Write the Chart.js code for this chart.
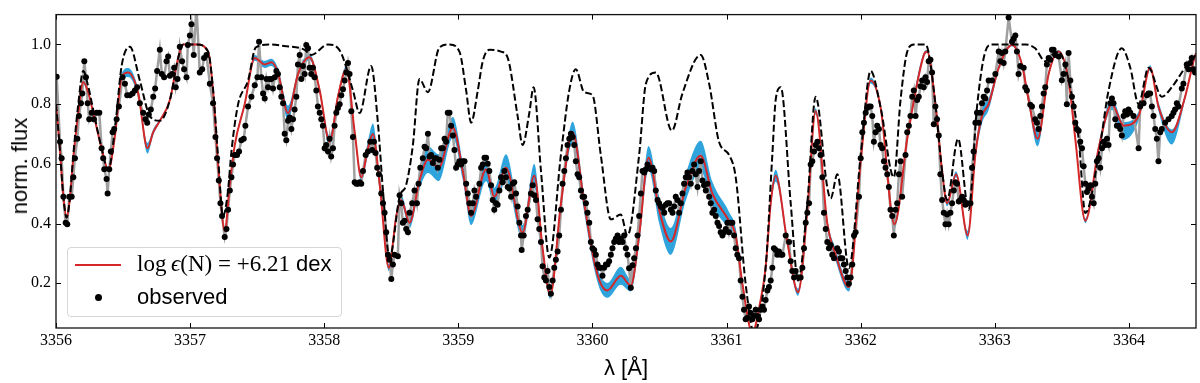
<!DOCTYPE html>
<html>
<head>
<meta charset="utf-8">
<script src="https://cdn.jsdelivr.net/npm/chart.js@4.4.1/dist/chart.umd.min.js"></script>
<style>
    html, body { margin: 0; padding: 0; background: #fff; }
    #wrap { position: relative; width: 1200px; height: 383px; overflow: hidden; }
    #chart { position: absolute; left: 0; top: 0; }
    .ytitle {
        position: absolute; left: 20px; top: 166px;
        transform: translate(-50%, -50%) rotate(-90deg);
        font: 22px 'Liberation Sans', Arial, sans-serif; white-space: nowrap; color: #000;
    }
    .xtitle {
        position: absolute; left: 626px; top: 368px;
        transform: translate(-50%, -50%);
        font: 22px 'Liberation Sans', Arial, sans-serif; white-space: nowrap; color: #000;
    }
    .legend {
        position: absolute; left: 67px; top: 247px; width: 275px; height: 70px;
        box-sizing: border-box; border: 1px solid #d6d6d6; border-radius: 4px;
        background: rgba(255, 255, 255, 0.8);
    }
    .legend .swatch { position: absolute; left: 7px; top: 16px; width: 46px; height: 2px; background: #d62728; }
    .legend .dot { position: absolute; left: 27px; top: 46px; width: 7px; height: 7px; border-radius: 50%; background: #000; }
    .legend .row1, .legend .row2 {
        position: absolute; left: 69px; line-height: 26px; white-space: nowrap; color: #000;
        font: 22px 'Liberation Sans', Arial, sans-serif;
    }
    .legend .row1 { top: 3px; }
    .legend .row2 { top: 36px; }
    .legend .math { font-family: 'Liberation Serif', 'DejaVu Serif', serif; font-size: 23px; }
</style>
</head>
<body>
<div id="wrap">
    <canvas id="chart" width="1200" height="383"></canvas>
    <div class="ytitle">norm. flux</div>
    <div class="xtitle">λ [Å]</div>
    <div class="legend">
        <div class="swatch"></div>
        <div class="row1"><span class="math">log&thinsp;<i>ϵ</i>(N) = +6.21</span> dex</div>
        <div class="dot"></div>
        <div class="row2">observed</div>
    </div>
</div>
<script>
// axis ticks
const X_TICKS = [3356, 3357, 3358, 3359, 3360, 3361, 3362, 3363, 3364];
const Y_TICKS = [0.2, 0.4, 0.6, 0.8, 1.0];

// observed spectrum [wavelength, normalised flux]
const observed = [
    [3356.005,0.892],[3356.030,0.674],[3356.042,0.619],[3356.055,0.490],[3356.072,0.403],[3356.084,0.398],
    [3356.099,0.490],[3356.117,0.490],[3356.129,0.555],[3356.141,0.619],[3356.159,0.684],[3356.171,0.760],
    [3356.186,0.803],[3356.196,0.836],[3356.211,0.944],[3356.223,0.890],[3356.236,0.803],[3356.248,0.749],
    [3356.266,0.771],[3356.283,0.749],[3356.303,0.771],[3356.323,0.771],[3356.340,0.652],[3356.352,0.619],
    [3356.360,0.582],[3356.377,0.549],[3356.385,0.501],[3356.397,0.582],[3356.409,0.641],[3356.422,0.706],
    [3356.434,0.717],[3356.452,0.749],[3356.469,0.792],[3356.496,0.890],[3356.514,0.868],[3356.531,0.830],
    [3356.551,0.830],[3356.571,0.836],[3356.588,0.846],[3356.605,0.857],[3356.625,0.803],[3356.650,0.771],
    [3356.667,0.749],[3356.680,0.738],[3356.692,0.765],[3356.707,0.782],[3356.725,0.825],[3356.739,0.852],
    [3356.754,0.911],[3356.774,0.982],[3356.789,0.901],[3356.806,0.890],[3356.824,0.944],[3356.836,0.960],
    [3356.849,0.895],[3356.866,0.901],[3356.881,0.922],[3356.893,0.857],[3356.906,0.884],[3356.923,0.992],
    [3356.940,0.944],[3356.955,0.917],[3356.973,0.890],[3356.983,0.998],[3356.998,1.030],[3357.010,1.068],
    [3357.027,0.965],[3357.047,1.130],[3357.072,0.906],[3357.090,0.917],[3357.104,0.955],[3357.122,0.965],
    [3357.147,0.868],[3357.171,0.803],[3357.189,0.690],[3357.201,0.619],[3357.214,0.544],[3357.226,0.468],
    [3357.238,0.425],[3357.258,0.355],[3357.271,0.382],[3357.283,0.446],[3357.296,0.511],[3357.308,0.555],
    [3357.320,0.598],[3357.333,0.630],[3357.350,0.630],[3357.365,0.641],[3357.382,0.679],[3357.400,0.684],
    [3357.412,0.728],[3357.432,0.792],[3357.457,0.825],[3357.482,0.863],[3357.502,0.890],[3357.514,1.009],
    [3357.531,0.890],[3357.544,0.836],[3357.556,0.819],[3357.569,0.884],[3357.581,0.857],[3357.593,0.884],
    [3357.606,0.884],[3357.618,0.852],[3357.631,0.890],[3357.643,0.911],[3357.655,0.901],[3357.668,0.857],
    [3357.680,0.825],[3357.693,0.803],[3357.705,0.701],[3357.717,0.679],[3357.730,0.744],[3357.742,0.755],
    [3357.755,0.717],[3357.767,0.749],[3357.779,0.782],[3357.792,0.825],[3357.804,0.933],[3357.817,0.965],
    [3357.829,0.884],[3357.841,0.928],[3357.854,0.901],[3357.866,0.998],[3357.879,0.987],[3357.891,0.922],
    [3357.903,0.901],[3357.916,0.922],[3357.928,0.890],[3357.941,0.846],[3357.953,0.792],[3357.966,0.771],
    [3357.978,0.749],[3357.990,0.728],[3358.003,0.652],[3358.015,0.663],[3358.028,0.641],[3358.040,0.684],
    [3358.052,0.625],[3358.065,0.652],[3358.077,0.728],[3358.090,0.771],[3358.102,0.787],[3358.115,0.800],
    [3358.127,0.830],[3358.140,0.850],[3358.152,0.879],[3358.165,0.906],[3358.177,0.938],[3358.189,0.901],
    [3358.202,0.776],[3358.214,0.690],[3358.227,0.538],[3358.239,0.533],[3358.251,0.533],[3358.264,0.538],
    [3358.276,0.533],[3358.289,0.576],[3358.309,0.630],[3358.326,0.641],[3358.343,0.674],[3358.358,0.646],
    [3358.371,0.674],[3358.383,0.636],[3358.395,0.587],[3358.408,0.565],[3358.425,0.501],[3358.438,0.468],
    [3358.450,0.436],[3358.462,0.371],[3358.475,0.295],[3358.487,0.279],[3358.500,0.214],[3358.512,0.263],
    [3358.524,0.295],[3358.549,0.290],[3358.562,0.495],[3358.574,0.468],[3358.586,0.403],[3358.599,0.409],
    [3358.611,0.382],[3358.624,0.371],[3358.636,0.436],[3358.656,0.468],[3358.673,0.511],[3358.691,0.468],
    [3358.703,0.533],[3358.716,0.587],[3358.735,0.619],[3358.748,0.657],[3358.760,0.652],[3358.773,0.701],
    [3358.785,0.625],[3358.797,0.630],[3358.810,0.603],[3358.822,0.619],[3358.835,0.619],[3358.847,0.587],
    [3358.859,0.614],[3358.872,0.652],[3358.884,0.652],[3358.897,0.684],[3358.909,0.674],[3358.921,0.771],
    [3358.934,0.771],[3358.946,0.728],[3358.959,0.695],[3358.971,0.646],[3358.983,0.587],[3358.996,0.598],
    [3359.008,0.609],[3359.021,0.598],[3359.033,0.609],[3359.046,0.609],[3359.058,0.533],[3359.070,0.501],
    [3359.083,0.468],[3359.095,0.436],[3359.108,0.468],[3359.120,0.511],[3359.132,0.490],[3359.157,0.533],
    [3359.170,0.587],[3359.182,0.598],[3359.195,0.620],[3359.207,0.620],[3359.219,0.600],[3359.231,0.576],
    [3359.244,0.528],[3359.256,0.479],[3359.268,0.446],[3359.281,0.468],[3359.293,0.463],[3359.306,0.511],
    [3359.318,0.555],[3359.330,0.538],[3359.343,0.576],[3359.355,0.555],[3359.368,0.522],[3359.380,0.517],
    [3359.393,0.490],[3359.405,0.533],[3359.417,0.538],[3359.430,0.501],[3359.442,0.457],[3359.455,0.403],
    [3359.467,0.360],[3359.472,0.311],[3359.487,0.360],[3359.504,0.425],[3359.517,0.446],[3359.541,0.501],
    [3359.554,0.528],[3359.566,0.495],[3359.579,0.479],[3359.591,0.414],[3359.603,0.382],[3359.616,0.338],
    [3359.628,0.257],[3359.641,0.219],[3359.653,0.209],[3359.665,0.241],[3359.678,0.187],[3359.690,0.165],
    [3359.703,0.209],[3359.715,0.252],[3359.727,0.279],[3359.740,0.306],[3359.752,0.360],[3359.765,0.446],
    [3359.777,0.533],[3359.790,0.576],[3359.802,0.619],[3359.814,0.663],[3359.827,0.684],[3359.839,0.701],
    [3359.852,0.690],[3359.864,0.663],[3359.876,0.609],[3359.889,0.565],[3359.901,0.555],[3359.914,0.511],
    [3359.926,0.490],[3359.938,0.490],[3359.951,0.468],[3359.963,0.436],[3359.976,0.403],[3359.988,0.338],
    [3360.000,0.317],[3360.013,0.311],[3360.025,0.295],[3360.038,0.263],[3360.050,0.252],[3360.062,0.252],
    [3360.075,0.225],[3360.087,0.252],[3360.100,0.263],[3360.112,0.263],[3360.124,0.274],[3360.137,0.295],
    [3360.149,0.317],[3360.162,0.338],[3360.174,0.349],[3360.187,0.360],[3360.199,0.338],[3360.211,0.349],
    [3360.224,0.338],[3360.236,0.360],[3360.249,0.317],[3360.261,0.295],[3360.273,0.250],[3360.286,0.185],
    [3360.299,0.260],[3360.311,0.284],[3360.324,0.317],[3360.336,0.360],[3360.348,0.425],[3360.361,0.501],
    [3360.373,0.576],[3360.386,0.571],[3360.398,0.582],[3360.410,0.598],[3360.423,0.587],[3360.435,0.582],
    [3360.448,0.587],[3360.460,0.576],[3360.472,0.511],[3360.485,0.479],[3360.497,0.468],[3360.510,0.457],
    [3360.522,0.452],[3360.535,0.436],[3360.547,0.463],[3360.559,0.468],[3360.572,0.468],[3360.584,0.446],
    [3360.597,0.436],[3360.609,0.457],[3360.621,0.490],[3360.634,0.479],[3360.646,0.436],[3360.659,0.468],
    [3360.671,0.501],[3360.683,0.533],[3360.696,0.555],[3360.708,0.571],[3360.721,0.555],[3360.733,0.533],
    [3360.745,0.576],[3360.758,0.598],[3360.770,0.565],[3360.783,0.522],[3360.795,0.576],[3360.807,0.609],
    [3360.820,0.544],[3360.832,0.528],[3360.845,0.511],[3360.857,0.533],[3360.870,0.490],[3360.882,0.468],
    [3360.894,0.436],[3360.907,0.446],[3360.919,0.425],[3360.932,0.403],[3360.944,0.392],[3360.956,0.371],
    [3360.969,0.360],[3360.981,0.371],[3360.994,0.382],[3361.006,0.403],[3361.018,0.371],[3361.031,0.403],
    [3361.043,0.403],[3361.056,0.360],[3361.068,0.317],[3361.080,0.295],[3361.093,0.284],[3361.105,0.209],
    [3361.118,0.155],[3361.130,0.111],[3361.142,0.079],[3361.155,0.084],[3361.167,0.122],[3361.180,0.100],
    [3361.192,0.079],[3361.205,0.090],[3361.217,0.111],[3361.229,0.090],[3361.242,0.079],[3361.254,0.111],
    [3361.267,0.122],[3361.279,0.111],[3361.291,0.144],[3361.304,0.176],[3361.316,0.187],[3361.329,0.209],
    [3361.341,0.252],[3361.353,0.317],[3361.366,0.311],[3361.378,0.295],[3361.391,0.306],[3361.404,0.295],
    [3361.416,0.295],[3361.441,0.360],[3361.466,0.338],[3361.478,0.274],[3361.490,0.241],[3361.503,0.219],
    [3361.515,0.241],[3361.540,0.219],[3361.552,0.219],[3361.565,0.252],[3361.577,0.317],[3361.590,0.403],
    [3361.602,0.436],[3361.615,0.468],[3361.627,0.598],[3361.639,0.609],[3361.652,0.641],[3361.664,0.663],
    [3361.677,0.674],[3361.689,0.652],[3361.701,0.630],[3361.714,0.555],[3361.726,0.436],[3361.739,0.382],
    [3361.751,0.338],[3361.763,0.317],[3361.776,0.328],[3361.788,0.295],[3361.801,0.284],[3361.825,0.317],
    [3361.838,0.306],[3361.850,0.284],[3361.863,0.284],[3361.875,0.263],[3361.888,0.241],[3361.900,0.219],
    [3361.912,0.198],[3361.925,0.219],[3361.937,0.263],[3361.950,0.360],[3361.962,0.371],[3361.987,0.490],
    [3362.000,0.619],[3362.012,0.706],[3362.024,0.738],[3362.037,0.771],[3362.049,0.787],[3362.061,0.792],
    [3362.074,0.792],[3362.086,0.760],[3362.098,0.674],[3362.111,0.706],[3362.123,0.728],[3362.136,0.717],
    [3362.148,0.663],[3362.160,0.652],[3362.173,0.609],[3362.185,0.587],[3362.198,0.565],[3362.210,0.522],
    [3362.222,0.446],[3362.235,0.425],[3362.247,0.360],[3362.260,0.446],[3362.272,0.468],[3362.285,0.565],
    [3362.297,0.609],[3362.309,0.490],[3362.334,0.630],[3362.347,0.706],[3362.359,0.728],[3362.371,0.760],
    [3362.384,0.825],[3362.396,0.846],[3362.409,0.760],[3362.421,0.814],[3362.433,0.825],[3362.446,0.860],
    [3362.458,0.879],[3362.470,0.857],[3362.483,0.890],[3362.495,0.874],[3362.507,0.944],[3362.520,0.949],
    [3362.532,0.906],[3362.545,0.733],[3362.557,0.792],[3362.569,0.749],[3362.582,0.695],[3362.594,0.565],
    [3362.607,0.479],[3362.619,0.436],[3362.632,0.398],[3362.644,0.430],[3362.656,0.398],[3362.669,0.436],
    [3362.681,0.468],[3362.694,0.511],[3362.706,0.538],[3362.718,0.533],[3362.731,0.474],[3362.743,0.479],
    [3362.756,0.490],[3362.768,0.479],[3362.780,0.463],[3362.793,0.468],[3362.818,0.468],[3362.830,0.587],
    [3362.842,0.641],[3362.855,0.738],[3362.867,0.771],[3362.880,0.738],[3362.892,0.771],[3362.904,0.803],
    [3362.917,0.825],[3362.929,0.819],[3362.942,0.846],[3362.954,0.879],[3362.979,0.879],[3363.004,0.901],
    [3363.029,0.976],[3363.041,0.944],[3363.053,0.971],[3363.066,0.938],[3363.078,0.976],[3363.103,1.090],
    [3363.128,1.009],[3363.140,1.019],[3363.153,1.030],[3363.165,0.976],[3363.177,0.901],[3363.190,0.928],
    [3363.215,0.922],[3363.227,0.857],[3363.239,0.846],[3363.264,0.798],[3363.277,0.792],[3363.301,0.749],
    [3363.314,0.738],[3363.326,0.717],[3363.339,0.760],[3363.351,0.792],[3363.364,0.836],[3363.376,0.857],
    [3363.388,0.933],[3363.401,0.955],[3363.413,0.949],[3363.426,0.982],[3363.438,0.982],[3363.450,0.965],
    [3363.476,0.960],[3363.500,0.880],[3363.512,0.901],[3363.526,0.933],[3363.537,0.800],[3363.550,0.971],
    [3363.563,0.879],[3363.575,0.825],[3363.588,0.792],[3363.600,0.738],[3363.612,0.717],[3363.625,0.711],
    [3363.637,0.674],[3363.650,0.652],[3363.662,0.592],[3363.675,0.533],[3363.687,0.506],[3363.699,0.517],
    [3363.712,0.528],[3363.724,0.490],[3363.737,0.468],[3363.749,0.533],[3363.761,0.609],[3363.774,0.619],
    [3363.786,0.587],[3363.799,0.652],[3363.811,0.674],[3363.823,0.663],[3363.836,0.684],[3363.848,0.663],
    [3363.861,0.803],[3363.873,0.819],[3363.885,0.803],[3363.898,0.749],[3363.910,0.728],[3363.923,0.728],
    [3363.935,0.717],[3363.947,0.695],[3363.960,0.760],[3363.972,0.776],[3363.985,0.765],[3363.997,0.782],
    [3364.010,0.771],[3364.034,0.760],[3364.072,0.652],[3364.084,0.792],[3364.109,0.803],[3364.134,0.830],
    [3364.146,0.836],[3364.158,0.836],[3364.171,0.792],[3364.183,0.760],[3364.196,0.717],[3364.208,0.684],
    [3364.220,0.609],[3364.233,0.706],[3364.245,0.717],[3364.270,0.738],[3364.295,0.749],[3364.319,0.760],
    [3364.332,0.771],[3364.344,0.782],[3364.357,0.803],[3364.369,0.792],[3364.394,0.852],[3364.406,0.868],
    [3364.431,0.933],[3364.444,0.917],[3364.456,0.938],[3364.468,0.955],[3364.481,0.917],[3364.493,0.906]
];

// best-fit synthetic spectrum, log eps(N) = +6.21
const model = [
    [3356.000,0.800],[3356.025,0.670],[3356.055,0.490],[3356.079,0.420],[3356.100,0.470],[3356.129,0.620],
    [3356.166,0.770],[3356.203,0.874],[3356.240,0.840],[3356.278,0.770],[3356.340,0.652],[3356.390,0.580],
    [3356.440,0.695],[3356.489,0.890],[3356.538,0.906],[3356.613,0.836],[3356.682,0.652],[3356.725,0.706],
    [3356.774,0.744],[3356.849,0.814],[3356.911,0.955],[3356.948,1.000],[3357.050,1.000],[3357.134,0.976],
    [3357.171,0.846],[3357.209,0.598],[3357.258,0.376],[3357.296,0.533],[3357.333,0.663],[3357.407,0.800],
    [3357.482,0.955],[3357.556,0.933],[3357.606,0.940],[3357.655,0.906],[3357.730,0.770],[3357.804,0.900],
    [3357.891,0.957],[3357.966,0.846],[3358.040,0.674],[3358.102,0.825],[3358.165,0.917],[3358.227,0.706],
    [3358.276,0.555],[3358.326,0.652],[3358.363,0.700],[3358.413,0.533],[3358.482,0.252],[3358.537,0.425],
    [3358.574,0.479],[3358.636,0.403],[3358.710,0.544],[3358.773,0.614],[3358.854,0.587],[3358.959,0.722],
    [3359.033,0.576],[3359.095,0.425],[3359.207,0.582],[3359.268,0.490],[3359.355,0.587],[3359.479,0.370],
    [3359.566,0.560],[3359.628,0.317],[3359.685,0.160],[3359.765,0.468],[3359.852,0.706],[3359.938,0.468],
    [3360.013,0.273],[3360.062,0.198],[3360.112,0.176],[3360.211,0.225],[3360.286,0.192],[3360.348,0.360],
    [3360.418,0.620],[3360.497,0.446],[3360.584,0.340],[3360.696,0.522],[3360.807,0.627],[3360.894,0.500],
    [3361.018,0.409],[3361.068,0.360],[3361.118,0.198],[3361.192,0.035],[3361.254,0.144],[3361.291,0.252],
    [3361.329,0.468],[3361.366,0.560],[3361.453,0.338],[3361.533,0.170],[3361.602,0.446],[3361.664,0.776],
    [3361.751,0.400],[3361.813,0.295],[3361.912,0.187],[3362.000,0.608],[3362.074,0.879],[3362.148,0.790],
    [3362.252,0.398],[3362.347,0.684],[3362.471,0.965],[3362.495,0.976],[3362.557,0.800],[3362.607,0.576],
    [3362.644,0.468],[3362.711,0.565],[3362.798,0.360],[3362.855,0.632],[3362.904,0.760],[3362.954,0.800],
    [3363.029,0.922],[3363.128,0.998],[3363.202,0.933],[3363.252,0.814],[3363.319,0.684],[3363.401,0.900],
    [3363.475,0.976],[3363.550,0.879],[3363.600,0.684],[3363.675,0.409],[3363.774,0.652],[3363.873,0.800],
    [3363.960,0.728],[3364.072,0.760],[3364.158,0.922],[3364.220,0.792],[3364.320,0.706],[3364.419,0.825],
    [3364.488,0.955],[3364.500,0.970]
];

// abundance range around the fit [wavelength, lower, upper]
const bandRange = [
    [3356.000,0.795,0.805],[3356.025,0.665,0.675],[3356.055,0.485,0.495],[3356.079,0.415,0.425],
    [3356.100,0.465,0.475],[3356.129,0.615,0.625],[3356.166,0.765,0.775],[3356.203,0.866,0.882],
    [3356.240,0.832,0.848],[3356.278,0.762,0.778],[3356.340,0.647,0.657],[3356.390,0.575,0.585],
    [3356.440,0.687,0.703],[3356.489,0.878,0.902],[3356.538,0.891,0.921],[3356.613,0.821,0.851],
    [3356.682,0.634,0.670],[3356.725,0.696,0.716],[3356.774,0.739,0.749],[3356.849,0.810,0.818],
    [3356.911,0.952,0.958],[3356.948,0.998,1.002],[3357.050,0.998,1.002],[3357.134,0.973,0.979],
    [3357.171,0.842,0.850],[3357.209,0.593,0.603],[3357.258,0.371,0.381],[3357.296,0.528,0.538],
    [3357.333,0.657,0.669],[3357.407,0.792,0.808],[3357.482,0.945,0.965],[3357.556,0.921,0.945],
    [3357.606,0.928,0.952],[3357.655,0.891,0.921],[3357.730,0.745,0.795],[3357.804,0.888,0.912],
    [3357.891,0.947,0.967],[3357.966,0.834,0.858],[3358.040,0.654,0.694],[3358.102,0.813,0.837],
    [3358.165,0.905,0.929],[3358.227,0.691,0.721],[3358.276,0.540,0.570],[3358.326,0.627,0.677],
    [3358.363,0.665,0.735],[3358.413,0.513,0.553],[3358.482,0.240,0.264],[3358.537,0.410,0.440],
    [3358.574,0.464,0.494],[3358.636,0.385,0.421],[3358.710,0.514,0.574],[3358.773,0.569,0.659],
    [3358.854,0.542,0.632],[3358.959,0.687,0.757],[3359.033,0.546,0.606],[3359.095,0.395,0.455],
    [3359.207,0.542,0.622],[3359.268,0.460,0.520],[3359.355,0.542,0.632],[3359.479,0.345,0.395],
    [3359.566,0.520,0.600],[3359.628,0.297,0.337],[3359.685,0.148,0.172],[3359.765,0.448,0.488],
    [3359.852,0.671,0.741],[3359.938,0.438,0.498],[3360.013,0.248,0.298],[3360.062,0.173,0.223],
    [3360.112,0.151,0.201],[3360.211,0.195,0.255],[3360.286,0.172,0.212],[3360.348,0.330,0.390],
    [3360.418,0.580,0.660],[3360.497,0.401,0.491],[3360.584,0.295,0.385],[3360.696,0.477,0.567],
    [3360.807,0.577,0.677],[3360.894,0.460,0.540],[3361.018,0.379,0.439],[3361.068,0.335,0.385],
    [3361.118,0.183,0.213],[3361.192,0.030,0.040],[3361.254,0.134,0.154],[3361.291,0.240,0.264],
    [3361.329,0.448,0.488],[3361.366,0.540,0.580],[3361.453,0.323,0.353],[3361.533,0.158,0.182],
    [3361.602,0.436,0.456],[3361.664,0.766,0.786],[3361.751,0.385,0.415],[3361.813,0.275,0.315],
    [3361.912,0.172,0.202],[3362.000,0.598,0.618],[3362.074,0.869,0.889],[3362.148,0.780,0.800],
    [3362.252,0.383,0.413],[3362.347,0.674,0.694],[3362.471,0.957,0.973],[3362.495,0.971,0.981],
    [3362.557,0.792,0.808],[3362.607,0.566,0.586],[3362.644,0.458,0.478],[3362.711,0.555,0.575],
    [3362.798,0.345,0.375],[3362.855,0.612,0.652],[3362.904,0.735,0.785],[3362.954,0.780,0.820],
    [3363.029,0.912,0.932],[3363.128,0.994,1.002],[3363.202,0.925,0.941],[3363.252,0.799,0.829],
    [3363.319,0.659,0.709],[3363.401,0.890,0.910],[3363.475,0.971,0.981],[3363.550,0.874,0.884],
    [3363.600,0.678,0.690],[3363.675,0.401,0.417],[3363.774,0.640,0.664],[3363.873,0.780,0.820],
    [3363.960,0.680,0.740],[3364.072,0.745,0.775],[3364.158,0.914,0.930],[3364.220,0.777,0.807],
    [3364.320,0.665,0.715],[3364.419,0.815,0.835],[3364.488,0.950,0.960],[3364.500,0.965,0.975]
];

// synthetic spectrum without nitrogen (dashed)
const noNitrogen = [
    [3356.000,0.800],[3356.025,0.670],[3356.055,0.490],[3356.079,0.420],[3356.100,0.470],[3356.129,0.630],
    [3356.166,0.800],[3356.203,0.911],[3356.240,0.860],[3356.278,0.780],[3356.340,0.652],[3356.390,0.580],
    [3356.440,0.720],[3356.490,0.930],[3356.551,0.992],[3356.625,0.879],[3356.700,0.760],[3356.774,0.744],
    [3356.849,0.814],[3356.911,0.955],[3356.948,1.000],[3357.050,1.000],[3357.134,0.976],[3357.171,0.850],
    [3357.209,0.620],[3357.245,0.425],[3357.280,0.500],[3357.310,0.650],[3357.358,0.800],[3357.432,0.879],
    [3357.490,0.990],[3357.600,1.000],[3357.700,0.995],[3357.854,0.982],[3357.903,0.965],[3358.028,1.000],
    [3358.115,0.980],[3358.214,0.846],[3358.264,0.770],[3358.350,0.928],[3358.400,0.738],[3358.438,0.510],
    [3358.487,0.285],[3358.562,0.490],[3358.611,0.530],[3358.661,0.663],[3358.710,0.884],[3358.773,0.840],
    [3358.859,0.990],[3358.934,1.000],[3359.008,0.976],[3359.058,0.846],[3359.095,0.738],[3359.145,0.846],
    [3359.182,0.944],[3359.232,0.982],[3359.318,0.976],[3359.368,0.955],[3359.442,0.760],[3359.479,0.663],
    [3359.529,0.770],[3359.561,0.857],[3359.616,0.576],[3359.678,0.286],[3359.765,0.632],[3359.827,0.846],
    [3359.876,0.917],[3359.938,0.840],[3360.000,0.830],[3360.062,0.630],[3360.137,0.414],[3360.211,0.430],
    [3360.261,0.360],[3360.348,0.630],[3360.398,0.868],[3360.472,0.906],[3360.592,0.711],[3360.671,0.836],
    [3360.807,0.965],[3360.870,0.868],[3360.944,0.673],[3361.018,0.630],[3361.068,0.555],[3361.142,0.198],
    [3361.204,0.035],[3361.291,0.252],[3361.341,0.630],[3361.366,0.814],[3361.404,0.857],[3361.478,0.468],
    [3361.533,0.209],[3361.602,0.468],[3361.664,0.825],[3361.751,0.520],[3361.776,0.484],[3361.826,0.565],
    [3361.912,0.250],[3362.000,0.630],[3362.074,0.911],[3362.148,0.790],[3362.247,0.555],[3362.297,0.814],
    [3362.347,0.976],[3362.396,1.000],[3362.483,1.000],[3362.507,0.971],[3362.557,0.800],[3362.607,0.576],
    [3362.644,0.479],[3362.726,0.684],[3362.805,0.446],[3362.867,0.790],[3362.929,0.976],[3362.979,1.000],
    [3363.227,1.000],[3363.301,0.987],[3363.376,0.944],[3363.426,0.965],[3363.475,0.976],[3363.550,0.880],
    [3363.625,0.684],[3363.675,0.435],[3363.774,0.630],[3363.848,0.846],[3363.947,0.987],[3364.010,0.922],
    [3364.072,0.800],[3364.146,0.922],[3364.245,0.825],[3364.320,0.857],[3364.419,0.922],[3364.488,0.960],
    [3364.500,0.965]
];

const RED = '#d62728';
const BLUE = '#2ea3dc';
const GREY = '#a0a0a0';

const toXY = pts => pts.map(p => ({ x: p[0], y: p[1] }));

// --- inward ticks on all four sides plus the axes frame ---
const frameTicks = {
    id: 'frameTicks',
    afterDraw(chart) {
        const { ctx, chartArea: a, scales } = chart;
        const x = scales.x, y = scales.y;
        const len = 5;
        ctx.save();
        ctx.strokeStyle = '#000';
        ctx.lineWidth = 1;
        ctx.beginPath();
        x.ticks.forEach(t => {
            const px = Math.round(x.getPixelForValue(t.value)) + 0.5;
            ctx.moveTo(px, a.bottom); ctx.lineTo(px, a.bottom - len);
            ctx.moveTo(px, a.top); ctx.lineTo(px, a.top + len);
        });
        y.ticks.forEach(t => {
            const py = Math.round(y.getPixelForValue(t.value)) + 0.5;
            ctx.moveTo(a.left, py); ctx.lineTo(a.left + len, py);
            ctx.moveTo(a.right, py); ctx.lineTo(a.right - len, py);
        });
        ctx.stroke();
        ctx.lineWidth = 1.3;
        ctx.strokeStyle = '#111';
        ctx.strokeRect(a.left, a.top, a.right - a.left, a.bottom - a.top);
        ctx.restore();
    }
};

const tickFont = { family: "'Liberation Serif', 'DejaVu Serif', serif", size: 16 };

new Chart(document.getElementById('chart').getContext('2d'), {
    type: 'line',
    data: {
        datasets: [
            {
                data: toXY(bandRange.map(r => [r[0], r[1]])),
                borderWidth: 0, pointRadius: 0, fill: false,
                cubicInterpolationMode: 'monotone', clip: 0, order: 6
            },
            {
                data: toXY(bandRange.map(r => [r[0], r[2]])),
                borderWidth: 0, pointRadius: 0, fill: '-1', backgroundColor: BLUE,
                cubicInterpolationMode: 'monotone', clip: 0, order: 5
            },
            {
                data: toXY(observed),
                borderColor: GREY, borderWidth: 2.5, pointRadius: 0, tension: 0,
                fill: false, clip: 0, order: 4
            },
            {
                data: toXY(model),
                borderColor: RED, borderWidth: 2, pointRadius: 0, fill: false,
                cubicInterpolationMode: 'monotone', clip: 0, order: 3
            },
            {
                data: toXY(noNitrogen),
                borderColor: '#000', borderWidth: 2, borderDash: [7, 3], pointRadius: 0, fill: false,
                cubicInterpolationMode: 'monotone', clip: 0, order: 2
            },
            {
                data: toXY(observed),
                showLine: false, pointRadius: 3, pointBackgroundColor: '#000',
                pointBorderWidth: 0, pointBorderColor: '#000', clip: 0, order: 1
            }
        ]
    },
    options: {
        responsive: false,
        devicePixelRatio: 1,
        animation: false,
        layout: { padding: { left: 0, right: 3, top: 4, bottom: 0 } },
        plugins: { legend: { display: false }, tooltip: { enabled: false } },
        scales: {
            x: {
                type: 'linear', min: 3356, max: 3364.5,
                afterBuildTicks: s => { s.ticks = X_TICKS.map(v => ({ value: v })); },
                afterFit: s => { s.height = 55; },
                grid: { display: false, drawTicks: false },
                border: { display: false },
                ticks: { font: tickFont, color: '#000', padding: 3, maxRotation: 0, callback: v => String(v) }
            },
            y: {
                min: 0.05, max: 1.1,
                afterBuildTicks: s => { s.ticks = Y_TICKS.map(v => ({ value: v })); },
                afterFit: s => { s.width = 56; },
                grid: { display: false, drawTicks: false },
                border: { display: false },
                ticks: { font: tickFont, color: '#000', padding: 5, callback: v => v.toFixed(1) }
            }
        }
    },
    plugins: [frameTicks]
});
</script>
</body>
</html>
